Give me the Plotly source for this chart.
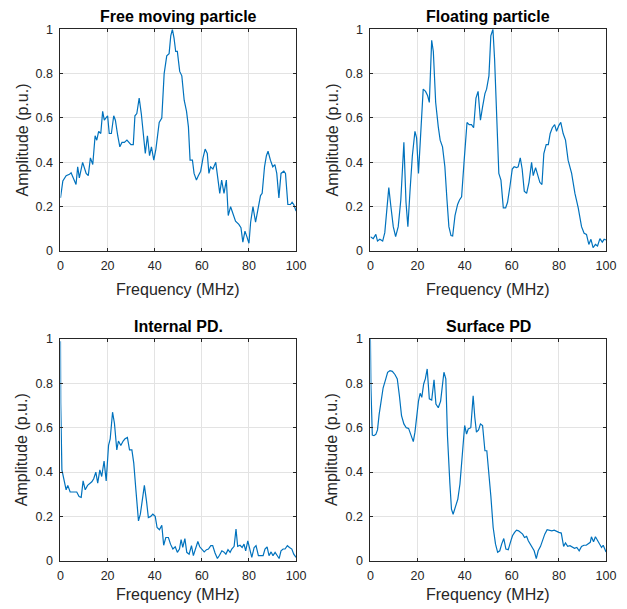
import plotly.graph_objects as go

# ---- Spectra (frequency in MHz, normalised amplitude in p.u.) ----
free_f = [0, 1, 2.4, 3.8, 4.5, 5.9, 6.6, 7.3, 8, 9.4, 10.9, 11.8, 12.7, 13.7, 14.7, 15.4, 16.2, 17.1,
          17.9, 18.6, 19.3, 20, 20.7, 21.6, 22.6, 23.3, 24.3, 25.2, 26.1, 27.1, 28.2, 29.2, 29.9, 30.9,
          31.6, 32.4, 33.4, 34.3, 35.1, 36, 36.9, 37.8, 38.6, 39.6, 40.5, 41.9, 43, 44, 45.1, 46.1, 46.8,
          47.5, 48.2, 48.9, 49.6, 50.6, 51.5, 52.5, 53.5, 54.3, 55, 56, 56.7, 57.7, 58.5, 59.5, 60.5, 61.4,
          62.3, 63, 63.7, 64.7, 65.9, 66.6, 67.6, 68.4, 69.4, 70.4, 71.2, 72.2, 73.2, 74.3, 75.7, 76.6,
          77.4, 78.3, 79.1, 80, 80.7, 81.7, 82.8, 83.8, 84.9, 85.6, 86.6, 87.4, 88.1, 89.1, 90.1, 91, 91.8,
          92.7, 93.6, 94.8, 95.5, 96.5, 97.6, 98.3, 99, 100]
free_a = [0.24, 0.316, 0.34, 0.346, 0.353, 0.32, 0.30, 0.38, 0.33, 0.40, 0.35, 0.34, 0.42, 0.39, 0.52, 0.50,
          0.54, 0.53, 0.63, 0.59, 0.60, 0.61, 0.53, 0.53, 0.61, 0.59, 0.52, 0.47, 0.49, 0.49, 0.50, 0.49, 0.48,
          0.48, 0.61, 0.62, 0.69, 0.62, 0.54, 0.44, 0.52, 0.43, 0.47, 0.41, 0.46, 0.58, 0.60, 0.80, 0.88, 0.89,
          0.97, 1.0, 0.96, 0.90, 0.90, 0.81, 0.79, 0.68, 0.63, 0.56, 0.41, 0.41, 0.35, 0.32, 0.34, 0.36, 0.42,
          0.46, 0.44, 0.35, 0.38, 0.37, 0.40, 0.35, 0.26, 0.32, 0.26, 0.32, 0.16, 0.20, 0.17, 0.135, 0.12,
          0.105, 0.04, 0.09, 0.065, 0.035, 0.13, 0.20, 0.13, 0.18, 0.25, 0.26, 0.38, 0.43, 0.45, 0.41, 0.38,
          0.39, 0.35, 0.24, 0.35, 0.36, 0.35, 0.21, 0.21, 0.22, 0.21, 0.18]

float_f = [0, 1.2, 2.3, 3, 4, 5.2, 6.1, 7, 7.8, 8.7, 9.7, 10.7, 11.8, 12.9, 14.2, 15.1, 15.9, 16.8, 17.8,
           18.9, 19.6, 20.4, 21.3, 22.4, 23.4, 24.3, 25, 26, 26.7, 27.7, 28.8, 29.6, 30.6, 31.6, 32.5, 33.3,
           34.2, 34.9, 35.9, 37, 37.8, 38.7, 39.8, 41, 41.9, 42.9, 43.8, 44.8, 45.7, 46.7, 47.6, 48.6, 49.3,
           50.3, 51.1, 52, 52.7, 53.5, 54.5, 55.4, 56.4, 57.4, 58.2, 59.2, 60.2, 61, 62, 62.7, 63.6, 64.4,
           65.3, 66.3, 67.3, 68.4, 69.1, 70.1, 70.9, 71.9, 72.8, 73.6, 74.6, 75.5, 76.3, 77.2, 78.2, 79, 80,
           80.8, 81.8, 82.8, 83.9, 85.4, 86.8, 88.2, 89.6, 90.7, 91.7, 92.7, 93.6, 94.5, 95.5, 96.4, 97.4,
           98.4, 99.2, 100]
float_a = [0.065, 0.056, 0.075, 0.045, 0.053, 0.045, 0.083, 0.195, 0.286, 0.20, 0.11, 0.065, 0.11, 0.23,
           0.49, 0.22, 0.11, 0.27, 0.43, 0.54, 0.51, 0.35, 0.52, 0.73, 0.72, 0.70, 0.67, 0.95, 0.90, 0.67,
           0.56, 0.50, 0.47, 0.38, 0.23, 0.11, 0.07, 0.068, 0.16, 0.21, 0.23, 0.245, 0.41, 0.58, 0.57, 0.57,
           0.556, 0.69, 0.72, 0.59, 0.65, 0.71, 0.73, 0.79, 0.97, 1.0, 0.865, 0.64, 0.35, 0.32, 0.195, 0.195,
           0.22, 0.29, 0.37, 0.38, 0.376, 0.38, 0.42, 0.37, 0.27, 0.26, 0.31, 0.40, 0.34, 0.376, 0.35, 0.31,
           0.30, 0.44, 0.48, 0.48, 0.53, 0.556, 0.57, 0.54, 0.567, 0.58, 0.53, 0.50, 0.41, 0.35, 0.26, 0.195,
           0.11, 0.08, 0.075, 0.03, 0.053, 0.015, 0.03, 0.023, 0.056, 0.04, 0.053, 0.05]

internal_f = [0, 0.1, 0.6, 1.6, 2.4, 3.1, 4.1, 5.1, 5.9, 6.9, 7.9, 8.8, 9.6, 10.5, 11.5, 12.3, 13.3, 14.1,
              15, 15.8, 16.7, 17.5, 18.5, 19.4, 20.4, 21.1, 22.1, 22.9, 23.9, 24.6, 25.6, 26.6, 27.4, 28.4,
              29.3, 30.3, 31.1, 32, 33.1, 33.9, 34.8, 35.6, 36.5, 37.3, 38.3, 39.2, 40.2, 41, 42, 43, 43.8,
              44.7, 45.8, 46.7, 47.7, 48.7, 49.6, 50.5, 51.2, 51.9, 52.8, 53.6, 54.6, 55.6, 56.4, 57.3, 58.3,
              59.1, 60.1, 61, 62, 62.8, 63.8, 64.6, 65.6, 66.6, 67.5, 68.5, 69.3, 70.2, 71.1, 72, 72.7, 73.7,
              74.5, 75.2, 76.2, 77.1, 77.9, 78.6, 79.5, 80.5, 81.2, 82.2, 83, 84, 85, 86, 86.8, 87.7, 88.5,
              89.4, 90.2, 91.1, 91.9, 92.8, 93.6, 94.5, 95.3, 96.3, 97.2, 98.2, 99, 100]
internal_a = [0.99, 0.71, 0.41, 0.35, 0.32, 0.34, 0.31, 0.31, 0.31, 0.31, 0.29, 0.286, 0.36, 0.32, 0.34,
              0.346, 0.356, 0.37, 0.40, 0.35, 0.41, 0.38, 0.45, 0.36, 0.52, 0.55, 0.67, 0.62, 0.50, 0.54,
              0.52, 0.54, 0.55, 0.556, 0.50, 0.50, 0.44, 0.32, 0.18, 0.21, 0.28, 0.34, 0.27, 0.195, 0.20,
              0.21, 0.20, 0.15, 0.14, 0.16, 0.07, 0.105, 0.105, 0.075, 0.053, 0.063, 0.038, 0.053, 0.095,
              0.06, 0.10, 0.038, 0.03, 0.068, 0.023, 0.053, 0.087, 0.063, 0.053, 0.04, 0.05, 0.053, 0.068,
              0.068, 0.035, 0.01, 0.025, 0.045, 0.04, 0.03, 0.05, 0.038, 0.053, 0.065, 0.143, 0.065, 0.07,
              0.06, 0.075, 0.045, 0.09, 0.053, 0.015, 0.06, 0.068, 0.023, 0.023, 0.023, 0.053, 0.063, 0.023,
              0.04, 0.023, 0.038, 0.025, 0.01, 0.045, 0.053, 0.053, 0.068, 0.06, 0.053, 0.03, 0.015]

surface_f = [0, 0.2, 0.8, 1.5, 2.3, 3, 3.7, 4.5, 5.4, 6.4, 7.3, 8.3, 9.3, 10.4, 11.4, 12.3, 13.2, 14.2,
             15.2, 16.2, 17.2, 18.2, 18.9, 19.6, 20.4, 21.1, 21.8, 22.6, 23.3, 24.1, 25, 26, 27, 27.8, 28.8,
             29.8, 30.6, 31.2, 32, 32.7, 33.7, 34.4, 35.1, 36.1, 37.1, 38, 38.7, 39.4, 40, 40.8, 41.5, 42.6,
             43.6, 44.3, 45, 45.9, 46.7, 47.6, 48.6, 49.4, 50.3, 51.1, 52.1, 53.1, 54, 54.9, 55.7, 56.6, 57.5,
             58.5, 59.5, 60.3, 61.2, 62, 62.9, 63.7, 64.6, 65.4, 66.3, 67, 67.8, 68.7, 69.5, 70.4, 71.2, 72.2,
             73.1, 74, 75, 76, 77, 78, 79, 80, 81, 82, 82.8, 83.7, 84.7, 85.6, 86.6, 87.6, 88.6, 89.6, 90.6,
             91.6, 92.4, 93.3, 93.8, 94.7, 95.5, 96.4, 97.2, 98.1, 98.8, 100]
surface_a = [1.0, 0.79, 0.567, 0.564, 0.57, 0.59, 0.66, 0.72, 0.78, 0.816, 0.85, 0.857, 0.854, 0.84, 0.82,
             0.744, 0.654, 0.617, 0.60, 0.597, 0.564, 0.537, 0.58, 0.654, 0.72, 0.755, 0.737, 0.797, 0.82,
             0.865, 0.73, 0.725, 0.816, 0.707, 0.69, 0.72, 0.81, 0.85, 0.82, 0.564, 0.353, 0.233, 0.21,
             0.248, 0.278, 0.346, 0.444, 0.55, 0.61, 0.571, 0.594, 0.60, 0.744, 0.647, 0.58, 0.59, 0.617,
             0.61, 0.496, 0.496, 0.40, 0.293, 0.15, 0.075, 0.038, 0.045, 0.075, 0.10, 0.053, 0.05, 0.086,
             0.113, 0.128, 0.138, 0.135, 0.128, 0.12, 0.105, 0.11, 0.09, 0.075, 0.06, 0.045, 0.01, 0.045,
             0.065, 0.095, 0.12, 0.14, 0.138, 0.135, 0.138, 0.132, 0.128, 0.125, 0.065, 0.08, 0.065, 0.068,
             0.063, 0.056, 0.06, 0.045, 0.065, 0.07, 0.07, 0.075, 0.083, 0.108, 0.086, 0.108, 0.093, 0.075,
             0.06, 0.07, 0.04]

titles = ["Free moving particle", "Floating particle", "Internal PD.", "Surface PD"]
x_label = "Frequency (MHz)"
y_label = "Amplitude (p.u.)"
x_ticks = [0, 20, 40, 60, 80, 100]
y_ticks = [0, 0.2, 0.4, 0.6, 0.8, 1]
y_tick_text = ["0", "0.2", "0.4", "0.6", "0.8", "1"]

series = [(free_f, free_a), (float_f, float_a), (internal_f, internal_a), (surface_f, surface_a)]

W, H = 627, 609
FONT = "Liberation Sans, Arial, Helvetica, sans-serif"
AX_COLOR = "#262626"
LINE_COLOR = "#0072BD"

# panel boxes in pixels: (left, right, top, bottom)
boxes = [(58.7, 299.3, 22.8, 249.8), (375.2, 615.8, 22.8, 249.8),
         (58.7, 299.3, 339.8, 566.8), (375.2, 615.8, 339.8, 566.8)]

fig = go.Figure()
annotations = []

for i, ((f, a), (l, r, t, b), title) in enumerate(zip(series, boxes, titles)):
    n = "" if i == 0 else str(i + 1)
    fig.add_trace(go.Scatter(x=f, y=a, mode="lines",
                             line=dict(color=LINE_COLOR, width=1.2),
                             xaxis="x" + n, yaxis="y" + n, showlegend=False,
                             hoverinfo="x+y"))
    axis_common = dict(showline=True, linecolor=AX_COLOR, linewidth=1, mirror="allticks",
                       ticks="inside", ticklen=3, tickcolor=AX_COLOR,
                       showgrid=True, gridcolor="#e3e3e3", gridwidth=1,
                       zeroline=False, fixedrange=True,
                       tickfont=dict(family=FONT, size=12.5, color=AX_COLOR))
    fig.layout["xaxis" + n] = dict(axis_common, domain=[l / W, r / W], range=[0, 100],
                                   tickvals=x_ticks, anchor="y" + n, ticklabelstandoff=3)
    fig.layout["yaxis" + n] = dict(axis_common, domain=[1 - b / H, 1 - t / H], range=[0, 1],
                                   tickvals=y_ticks, ticktext=y_tick_text, anchor="x" + n,
                                   ticklabelstandoff=4)
    cx = (l + r) / 2 / W
    annotations.append(dict(text="<b>" + title + "</b>", x=cx, y=1 - (t - 13) / H,
                            xref="paper", yref="paper", xanchor="center", yanchor="middle",
                            showarrow=False, font=dict(family=FONT, size=16, color="black")))
    annotations.append(dict(text=x_label, x=cx, y=1 - min(b + 39.5, 601.5) / H,
                            xref="paper", yref="paper", xanchor="center", yanchor="middle",
                            showarrow=False, font=dict(family=FONT, size=16, color=AX_COLOR)))
    annotations.append(dict(text=y_label, x=(l - 39) / W, y=1 - (t + b) / 2 / H,
                            xref="paper", yref="paper", xanchor="center", yanchor="middle",
                            textangle=-90, showarrow=False,
                            font=dict(family=FONT, size=16, color=AX_COLOR)))

fig.update_layout(width=W, height=H, margin=dict(l=0, r=0, t=0, b=0),
                  paper_bgcolor="white", plot_bgcolor="white",
                  annotations=annotations, font=dict(family=FONT))

fig.write_html("out.html")
